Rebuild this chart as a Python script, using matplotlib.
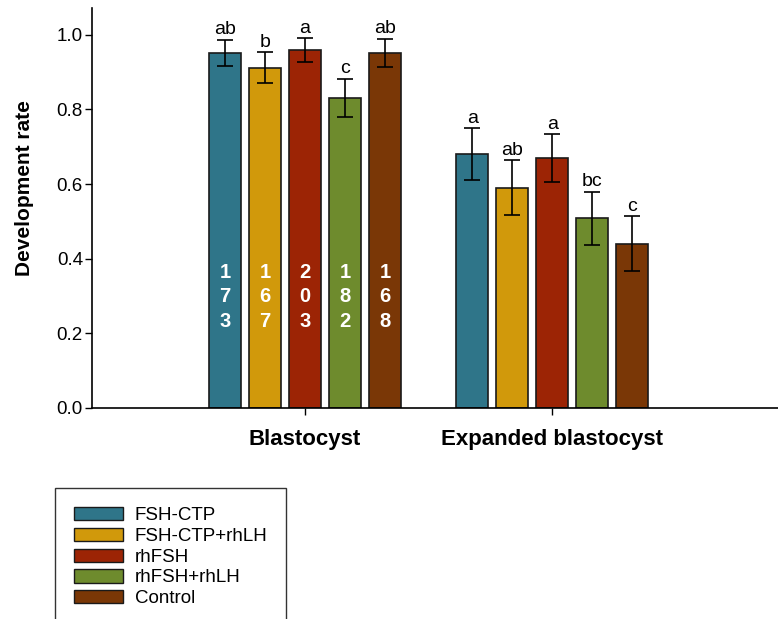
import numpy as np
import matplotlib
matplotlib.use("Agg")
import matplotlib.pyplot as plt

plt.rcParams['font.family'] = ['Liberation Sans', 'DejaVu Sans']

stages = ['Blastocyst', 'Expanded blastocyst']
treatments = ['FSH-CTP', 'FSH-CTP+rhLH', 'rhFSH', 'rhFSH+rhLH', 'Control']
colors = ['#2F7589', '#D1990B', '#9C2405', '#6E8B2D', '#7A3706']

# development rate per treatment, one list per stage
rate_blasto = [0.952, 0.912, 0.960, 0.831, 0.952]
err_blasto = [0.035, 0.042, 0.032, 0.052, 0.038]
rate_expanded = [0.681, 0.590, 0.670, 0.509, 0.440]
err_expanded = [0.070, 0.074, 0.063, 0.071, 0.074]

sig_blasto = ['ab', 'b', 'a', 'c', 'ab']
sig_expanded = ['a', 'ab', 'a', 'bc', 'c']

n_oocytes = [173, 167, 203, 182, 168]

rates = [rate_blasto, rate_expanded]
errs = [err_blasto, err_expanded]
sigs = [sig_blasto, sig_expanded]

fig = plt.figure(figsize=(7.78, 6.19), dpi=100)
ax = fig.add_axes([92 / 778, 1 - 408 / 619, 1 - 92 / 778, 400 / 619])

centers = np.array([0.0, 6.18])
width = 0.8

for i, name in enumerate(treatments):
    xs = centers + (i - 2)
    hs = [rates[g][i] for g in range(2)]
    es = [errs[g][i] for g in range(2)]
    ax.bar(xs, hs, width, color=colors[i], edgecolor='#1a1a1a', linewidth=1.2,
           label=name, zorder=2)
    ax.errorbar(xs, hs, yerr=es, fmt='none', ecolor='black', elinewidth=1.2,
                capsize=6, capthick=1.2, zorder=3)
    for g in range(2):
        ax.text(xs[g], hs[g] + es[g] + 0.014, sigs[g][i], ha='center',
                va='baseline', fontsize=14, color='black')
    # sample size written down inside the blastocyst bar
    ax.text(xs[0], 0.298, '\n'.join(str(n_oocytes[i])), ha='center', va='center',
            color='white', fontsize=14.5, fontweight='bold', linespacing=1.35)

ax.set_xlim(-5.33, 11.83)
ax.set_ylim(0, 1.072)
ax.set_yticks([0.0, 0.2, 0.4, 0.6, 0.8, 1.0])
ax.set_yticklabels(['0.0', '0.2', '0.4', '0.6', '0.8', '1.0'])
ax.set_xticks(centers)
ax.set_xticklabels(stages, fontsize=16, fontweight='bold')
ax.tick_params(axis='y', length=5, width=1, labelsize=13.5, pad=1.5)
ax.tick_params(axis='x', length=5, width=1, pad=10)

for s in ['top', 'right']:
    ax.spines[s].set_visible(False)
for s in ['left', 'bottom']:
    ax.spines[s].set_linewidth(1.2)

ax.set_ylabel('Development rate', fontsize=15, fontweight='bold')
ax.yaxis.set_label_coords(-0.085, 0.551)

leg = ax.legend(loc='upper left', bbox_to_anchor=(55 / 778, 1 - 488 / 619),
                bbox_transform=fig.transFigure, fontsize=13.5, frameon=True,
                fancybox=False, edgecolor='black', borderpad=1.0,
                labelspacing=0.2, handlelength=2.6, handleheight=0.7,
                handletextpad=0.65, borderaxespad=0)
leg.get_frame().set_linewidth(1.0)
for p in leg.get_patches():
    p.set_linewidth(1.0)

fig.savefig('out.png', dpi=100)
